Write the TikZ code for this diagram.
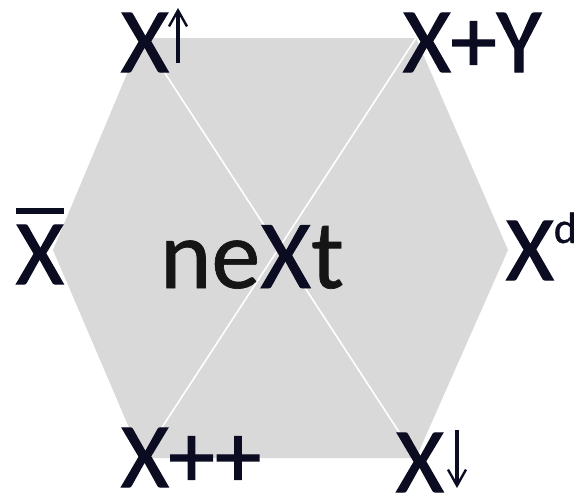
\documentclass[tikz,border=0pt]{standalone}
\usepackage{fontspec}
\setmainfont{Carlito}
\newfontfamily\heavyfont[FakeBold=1.4]{Carlito}
\newfontfamily\midfont[FakeBold=0.7]{Carlito}
\usetikzlibrary{arrows.meta}
\definecolor{hexgrey}{HTML}{D9D9D9}
\definecolor{ink}{HTML}{0B0B22}
\definecolor{wordink}{HTML}{151515}
\tikzset{
  corner/.style={anchor=base west, inner sep=0pt, outer sep=0pt, text=ink, font=\heavyfont\fontsize{92}{92}\selectfont},
  bigword/.style={anchor=base west, inner sep=0pt, outer sep=0pt, text=wordink, font=\midfont\fontsize{98}{98}\selectfont},
  diag/.style={white, line width=1.6pt},
  supar/.style={ink, line width=3.4pt, -{Straight Barb[length=16pt,width=18pt,line width=2.4pt]}}
}
\begin{document}
\begin{tikzpicture}[x=1pt,y=-1pt]
\useasboundingbox (0,0) rectangle (580,496);
% hexagon
\coordinate (tl) at (142,38);
\coordinate (tr) at (416,38);
\coordinate (r) at (508,250);
\coordinate (br) at (416,458);
\coordinate (bl) at (142,458);
\coordinate (l) at (53,250);
\fill[hexgrey] (tl) -- (tr) -- (r) -- (br) -- (bl) -- (l) -- cycle;
\draw[diag] (tl) -- (br);
\draw[diag] (tr) -- (bl);
% centre word
\node[bigword] (next) at (160,288) {ne{\color{ink}X}t};
% corner labels
\node[corner] (xup) at (121,72) {X};
\coordinate (upS) at (178,63);
\coordinate (upE) at (178,8);
\draw[supar] (upS) -- (upE);
\node[corner] (xy) at (403,72) {X+Y};
\node[corner] (xbar) at (16,284) {\makebox[0pt][l]{\raisebox{70pt}{\rule{0.52em}{6pt}}}X};
\node[corner] (xd) at (506,280) {X\raisebox{37pt}{\midfont\fontsize{44}{44}\selectfont d}};
\node[corner] (xpp) at (121,487) {X++};
\node[corner] (xdn) at (396,492) {X};
\coordinate (dnS) at (457,430);
\coordinate (dnE) at (457,488);
\draw[supar] (dnS) -- (dnE);
\end{tikzpicture}
\end{document}
